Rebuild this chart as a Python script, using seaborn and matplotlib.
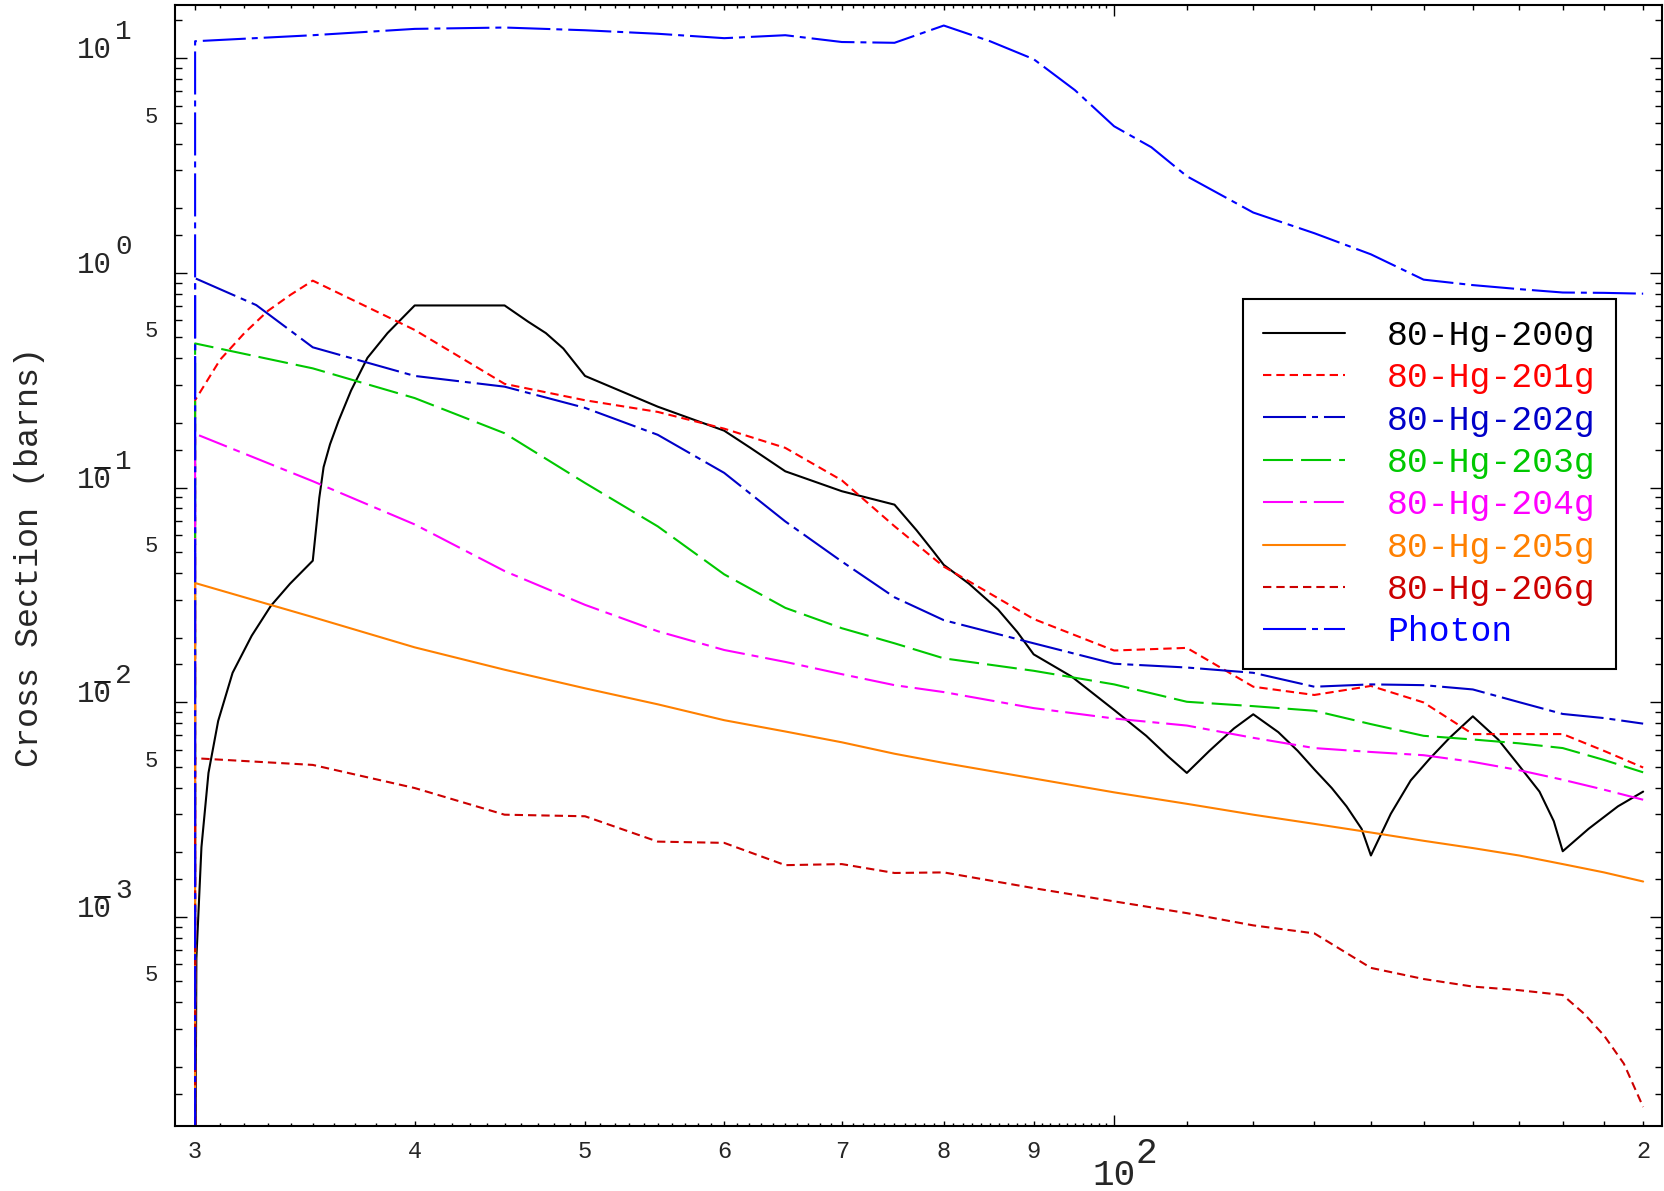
import matplotlib
matplotlib.use("Agg")
import matplotlib.pyplot as plt
from matplotlib.ticker import FixedLocator, NullFormatter
from matplotlib.lines import Line2D
from matplotlib.transforms import offset_copy
import seaborn as sns

# cross sections (barns) against energy (MeV)
threshold = 30
floor = 1e-6   # value below threshold (drawn as the vertical rise at 30)

hg200_x = [30.03, 30.05, 30.25, 30.53, 30.92, 31.51, 32.31, 33.13, 33.97, 35, 35.3, 35.5, 35.8,
           36.2, 36.8, 37.6, 38.6, 40, 45, 46.4, 47.5, 48.6, 50, 55, 60, 62.1, 65, 70, 75, 77.2,
           78.9, 80, 82.7, 85.9, 88.1, 90, 94.6, 100, 104.3, 107.3, 110, 113.3, 117, 120, 124,
           127.2, 130, 133, 135.6, 138.3, 140, 143.7, 147.5, 151.3, 155.2, 160, 165.4, 170,
           174.6, 177.9, 180, 186.2, 193.5, 200]
hg200_y = [1.93e-4, 6.4e-4, 0.00211, 0.00468, 0.00817, 0.0137, 0.0204, 0.0281, 0.0356, 0.0456,
           0.0895, 0.1245, 0.159, 0.204, 0.283, 0.402, 0.524, 0.705, 0.705, 0.593, 0.524, 0.444,
           0.331, 0.238, 0.184, 0.153, 0.119, 0.0961, 0.0832, 0.0632, 0.0505, 0.0436, 0.0356,
           0.0270, 0.0212, 0.0167, 0.01315, 0.0092, 0.00697, 0.0056, 0.00468, 0.00593, 0.00754,
           0.00878, 0.00725, 0.00593, 0.00486, 0.00398, 0.00327, 0.00257, 0.00193, 0.00302,
           0.00432, 0.00548, 0.00682, 0.00859, 0.0067, 0.00506, 0.00383, 0.00279, 0.00202,
           0.00257, 0.00327, 0.00383]

hg201_x = [30, 31, 32, 33, 34, 35, 40, 45, 50, 55, 60, 65, 70, 75, 80, 90, 100, 110, 120, 130,
           140, 150, 160, 170, 180, 190, 200]
hg201_y = [0.255, 0.394, 0.524, 0.665, 0.791, 0.92, 0.542, 0.304, 0.255, 0.225, 0.188, 0.153,
           0.108, 0.066, 0.0428, 0.0244, 0.0174, 0.0179, 0.0118, 0.0108, 0.0119, 0.00997, 0.0071,
           0.0071, 0.0071, 0.00593, 0.00496]

hg202_x = [30, 32.5, 35, 40, 45, 50, 55, 60, 65, 70, 75, 80, 90, 100, 110, 120, 130, 140, 150,
           160, 170, 180, 190, 200]
hg202_y = [0.944, 0.708, 0.45, 0.331, 0.295, 0.235, 0.176, 0.117, 0.0695, 0.0452, 0.0308, 0.0241,
           0.0188, 0.0151, 0.0145, 0.0137, 0.0118, 0.0121, 0.012, 0.01146, 0.01, 0.00881, 0.00843,
           0.00794]

energy = [30, 35, 40, 45, 50, 55, 60, 65, 70, 75, 80, 90, 100, 110, 120, 130, 140, 150, 160, 170,
          180, 190, 200]
hg203_y = [0.469, 0.359, 0.261, 0.179, 0.105, 0.0659, 0.0394, 0.0275, 0.0221, 0.0188, 0.016,
           0.014, 0.0121, 0.01004, 0.00958, 0.00912, 0.0079, 0.00697, 0.0067, 0.00643, 0.00611,
           0.00538, 0.00471]
hg204_y = [0.178, 0.107, 0.0673, 0.0408, 0.0284, 0.0214, 0.0175, 0.0154, 0.0135, 0.012, 0.01114,
           0.00938, 0.00839, 0.00778, 0.00682, 0.00611, 0.00586, 0.00566, 0.00527, 0.00482,
           0.00435, 0.00391, 0.00351]
hg205_y = [0.0359, 0.0249, 0.018, 0.01416, 0.0116, 0.00977, 0.00824, 0.0073, 0.0065, 0.00575,
           0.00521, 0.00441, 0.0038, 0.00336, 0.00299, 0.00271, 0.00247, 0.00226, 0.00209,
           0.00193, 0.00176, 0.00161, 0.00146]

hg206_x = [30, 35, 40, 45, 50, 55, 60, 65, 70, 75, 80, 90, 100, 110, 120, 130, 140, 150, 160,
           170, 180, 185, 190, 195, 200]
hg206_y = [0.00548, 0.0051, 0.00398, 0.00299, 0.00294, 0.00224, 0.00221, 0.00174, 0.00176, 0.0016,
           0.00161, 0.00136, 0.00118, 0.00104, 0.000912, 0.000837, 0.000578, 0.000513, 0.000473,
           0.000455, 0.000432, 0.000355, 0.00028, 0.000207, 0.00013]

photon_x = [30, 35, 40, 45, 50, 55, 60, 65, 70, 75, 80, 85, 90, 95, 100, 105, 110, 120, 130, 140,
            150, 160, 170, 180, 190, 200]
photon_y = [12.0, 12.8, 13.7, 13.9, 13.5, 13.0, 12.4, 12.8, 11.9, 11.8, 14.2, 12.0, 9.9, 7.1, 4.82,
            3.85, 2.82, 1.91, 1.53, 1.22, 0.93, 0.877, 0.84, 0.81, 0.807, 0.8]

labels = ["80-Hg-200g", "80-Hg-201g", "80-Hg-202g", "80-Hg-203g", "80-Hg-204g", "80-Hg-205g",
          "80-Hg-206g", "Photon"]
colors = ["#000000", "#ff0000", "#0000c8", "#00c800", "#ff00ff", "#ff8000", "#cc0000", "#0000ff"]
styles = ["-", (0, (6, 3.6)), (0, (31, 4.3, 4.3, 4.3)), (0, (21.6, 5.8)),
          (0, (21.6, 5, 5, 5)), "-", (0, (6, 3.6)), (0, (31, 4.3, 4.3, 4.3))]

xs = [hg200_x, hg201_x, hg202_x, energy, energy, energy, hg206_x, photon_x]
ys = [hg200_y, hg201_y, hg202_y, hg203_y, hg204_y, hg205_y, hg206_y, photon_y]

sns.set_style("ticks")
mono = ["Liberation Mono", "DejaVu Sans Mono"]
plt.rcParams["font.family"] = mono
plt.rcParams["lines.scale_dashes"] = False
plt.rcParams["axes.linewidth"] = 1.5

fig = plt.figure(figsize=(16.65, 11.91), dpi=100)
ax = fig.add_axes([175 / 1665, 1 - 1126 / 1191, 1487 / 1665, 1121 / 1191])
ax.set_xscale("log")
ax.set_yscale("log")

for lab, x, y, c, ls in zip(labels, xs, ys, colors, styles):
    sns.lineplot(x=[threshold] + x, y=[floor] + y, ax=ax, color=c, linestyle=ls, linewidth=1.5,
                 label=lab, estimator=None, sort=False)

ax.set_xlim(29.22, 205.0)
ax.set_ylim(1.06e-4, 17.7)
ax.set_xlabel("")
ax.set_ylabel("")

# ticks
x_major = [30, 40, 50, 60, 70, 80, 90, 100, 110, 120, 130, 140, 150, 160, 170, 180, 190, 200]
x_minor = [v for v in range(31, 100) if v % 10 != 0]
ax.xaxis.set_major_locator(FixedLocator(x_major))
ax.xaxis.set_minor_locator(FixedLocator(x_minor))
y_major = [10.0 ** e for e in range(-4, 2)]
y_minor = [m * 10.0 ** e for e in range(-4, 2) for m in (1.5, 2, 3, 4, 5, 6, 7, 8, 9)]
ax.yaxis.set_major_locator(FixedLocator(y_major))
ax.yaxis.set_minor_locator(FixedLocator(y_minor))
ax.xaxis.set_major_formatter(NullFormatter())
ax.xaxis.set_minor_formatter(NullFormatter())
ax.yaxis.set_major_formatter(NullFormatter())
ax.yaxis.set_minor_formatter(NullFormatter())

ax.tick_params(which="both", direction="in", top=True, right=True, width=1.0, color="black")
ax.tick_params(axis="x", which="major", length=3.6)
ax.tick_params(axis="x", which="minor", length=2.2)
ax.tick_params(axis="y", which="major", length=8.6)
ax.tick_params(axis="y", which="minor", length=5.0)
for t, loc in zip(ax.xaxis.get_major_ticks(), x_major):
    if loc == 100:
        t.tick1line.set_markersize(8)
        t.tick2line.set_markersize(8)
for s in ax.spines.values():
    s.set_linewidth(1.5)
    s.set_color("black")

# y tick labels: 10 with raised exponent (minus drawn as a bar over the 0), 5 at half decades
ytrans = ax.get_yaxis_transform()
bar_trans = offset_copy(ytrans, fig=fig, x=0, y=20, units="dots")
for e in [1, 0, -1, -2, -3]:
    v = 10.0 ** e
    ax.annotate("10", xy=(0, v), xycoords=("axes fraction", "data"), xytext=(-63, 0),
                textcoords="offset pixels", ha="right", va="baseline", fontsize=21, family=mono)
    ax.annotate(str(abs(e)), xy=(0, v), xycoords=("axes fraction", "data"), xytext=(-60, 19),
                textcoords="offset pixels", ha="left", va="baseline", fontsize=20, family=mono)
    if e < 0:
        ax.add_line(Line2D([-80 / 1487, -65 / 1487], [v, v], transform=bar_trans, color="black",
                           linewidth=1.3, clip_on=False))
for e in [0, -1, -2, -3, -4]:
    ax.annotate("5", xy=(0, 5 * 10.0 ** e), xycoords=("axes fraction", "data"), xytext=(-17, 0),
                textcoords="offset pixels", ha="right", va="baseline", fontsize=16, family=mono)

# x tick labels
x_lab_pos = [30, 40, 50, 60, 70, 80, 90, 200]
x_lab_txt = ["3", "4", "5", "6", "7", "8", "9", "2"]
for v, s in zip(x_lab_pos, x_lab_txt):
    ax.annotate(s, xy=(v, 0), xycoords=("data", "axes fraction"), xytext=(0, -32),
                textcoords="offset pixels", ha="center", va="baseline", fontsize=17, family=mono)
ax.annotate("10", xy=(100, 0), xycoords=("data", "axes fraction"), xytext=(0, -59),
            textcoords="offset pixels", ha="center", va="baseline", fontsize=26, family=mono)
ax.annotate("2", xy=(100, 0), xycoords=("data", "axes fraction"), xytext=(21, -37),
            textcoords="offset pixels", ha="left", va="baseline", fontsize=26, family=mono)

fig.text(30 / 1665, 1 - 557 / 1191, "Cross Section (barns)", rotation=90, ha="center",
         va="center", fontsize=24, family=mono)

leg = ax.legend(loc="upper left", bbox_to_anchor=(0.718, 0.738), borderaxespad=0,
                prop={"family": mono, "size": 25}, labelcolor="linecolor", frameon=True,
                fancybox=False, framealpha=1, edgecolor="black", handlelength=2.36,
                handletextpad=1.21, borderpad=0.58, labelspacing=0.27)
leg.get_frame().set_linewidth(1.5)

fig.savefig("out.png", dpi=100)
